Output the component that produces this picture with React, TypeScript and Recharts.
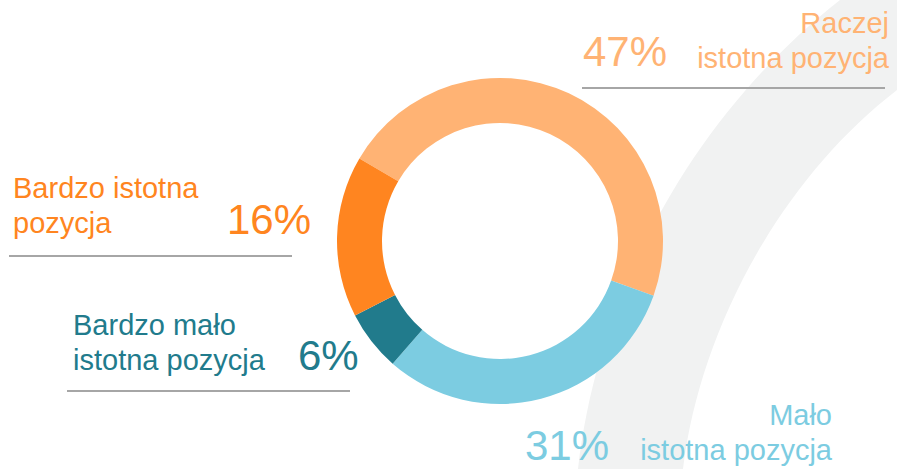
import { PieChart, Pie, Cell } from 'recharts';

const CATEGORIES = ['Raczej istotna pozycja', 'Mało istotna pozycja', 'Bardzo mało istotna pozycja', 'Bardzo istotna pozycja'];
const VALUES = [47, 31, 6, 16];
const COLORS = ['#FFB374', '#7CCCE1', '#217B8C', '#FF8520'];

// label lines per category (same order as above)
const LABEL_LINES = [
  ['Raczej', 'istotna pozycja'],
  ['Mało', 'istotna pozycja'],
  ['Bardzo mało', 'istotna pozycja'],
  ['Bardzo istotna', 'pozycja'],
];

const W = 897;
const H = 469;
const FONT = '"Liberation Sans", Arial, sans-serif';

// layout for each label block
const LABEL_LAYOUT = [
  { textX: 889, anchor: 'end', base: 33, pctX: 583, pctBase: 66, rule: [582, 885, 88] },
  { textX: 832, anchor: 'end', base: 425, pctX: 525, pctBase: 460, rule: null },
  { textX: 73, anchor: 'start', base: 335, pctX: 298, pctBase: 370, rule: [67, 350, 391] },
  { textX: 13, anchor: 'start', base: 198, pctX: 227, pctBase: 234, rule: [9, 292, 256] },
];

export default function App() {
  const data = CATEGORIES.map((name, i) => ({ name, value: VALUES[i] }));
  return (
    <div style={{ position: 'absolute', left: 0, top: 0, width: W, height: H, background: '#fff', overflow: 'hidden' }}>
      <svg width={W} height={H} style={{ position: 'absolute', left: 0, top: 0 }}>
        <path d="M 840 0 C 700 110, 600 280, 578 469 L 683 469 C 700 330, 780 180, 897 90 L 897 0 Z" fill="#F1F2F2" />
      </svg>
      <div style={{ position: 'absolute', left: 0, top: 0 }}>
        <PieChart width={W} height={H} margin={{ top: 0, right: 0, bottom: 0, left: 0 }}>
          <Pie
            data={data}
            dataKey="value"
            cx={500}
            cy={241}
            innerRadius={118}
            outerRadius={163}
            startAngle={149.6}
            endAngle={-210.4}
            stroke="none"
            isAnimationActive={false}
          >
            {data.map((d, i) => (
              <Cell key={d.name} fill={COLORS[i]} />
            ))}
          </Pie>
        </PieChart>
      </div>
      <svg width={W} height={H} style={{ position: 'absolute', left: 0, top: 0, pointerEvents: 'none' }}>
        {LABEL_LAYOUT.map((l, i) => (
          <g key={i} fontFamily={FONT} fill={COLORS[i]}>
            {LABEL_LINES[i].map((line, j) => (
              <text key={j} x={l.textX} y={l.base + j * 35} fontSize={29} textAnchor={l.anchor}>
                {line}
              </text>
            ))}
            <text x={l.pctX} y={l.pctBase} fontSize={42}>
              {VALUES[i]}%
            </text>
            {l.rule && (
              <line x1={l.rule[0]} x2={l.rule[1]} y1={l.rule[2]} y2={l.rule[2]} stroke="#A6A6A6" strokeWidth={2} />
            )}
          </g>
        ))}
      </svg>
    </div>
  );
}
